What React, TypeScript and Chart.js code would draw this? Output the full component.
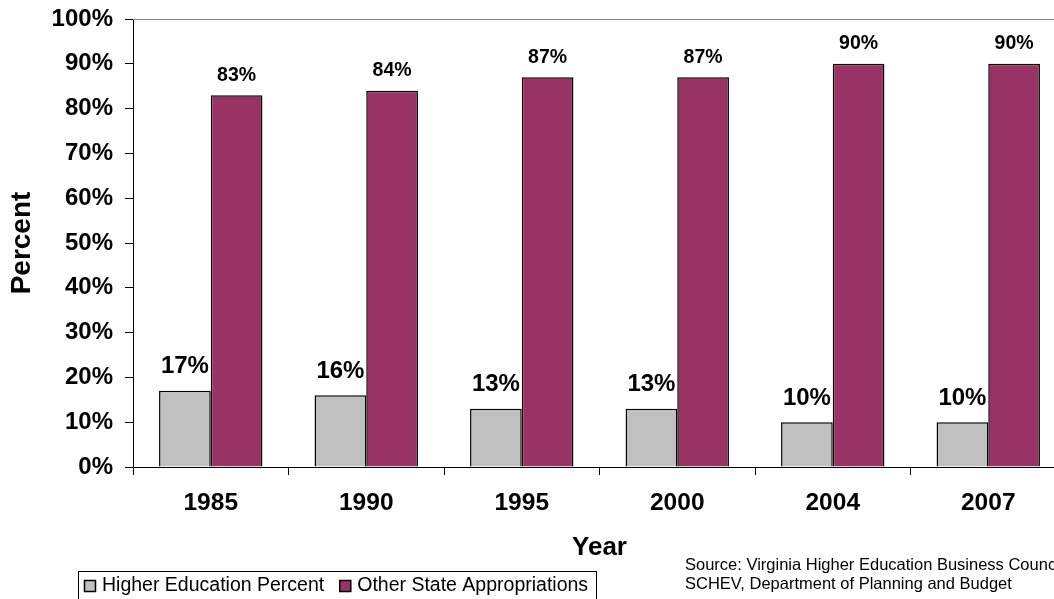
import React, { useEffect, useRef } from "react";
import { Chart, registerables } from "chart.js";

Chart.register(...registerables);

const years = ["1985", "1990", "1995", "2000", "2004", "2007"];
const higherEd = [17, 16, 13, 13, 10, 10];
const otherState = [83, 84, 87, 87, 90, 90];
const seriesNames = ["Higher Education Percent", "Other State Appropriations"];
const seriesColors = ["#C0C0C0", "#993366"];
const yTicks = [0, 10, 20, 30, 40, 50, 60, 70, 80, 90, 100];
const sourceLines = [
  "Source: Virginia Higher Education Business Council,",
  "SCHEV, Department of Planning and Budget",
];

const FONT = "'Liberation Sans', Arial, Helvetica, sans-serif";
const W = 1070;
const H = 599;

const extrasPlugin = {
  id: "extras",
  afterDraw(chart: any) {
    const ctx = chart.ctx;
    const area = chart.chartArea;
    ctx.save();
    // top and right border of plot area
    ctx.strokeStyle = "#808080";
    ctx.lineWidth = 1;
    ctx.beginPath();
    ctx.moveTo(area.left, Math.round(area.top) + 0.5);
    ctx.lineTo(area.right, Math.round(area.top) + 0.5);
    ctx.moveTo(Math.round(area.right) - 0.5, area.top);
    ctx.lineTo(Math.round(area.right) - 0.5, area.bottom);
    ctx.stroke();

    // data labels
    ctx.fillStyle = "#000";
    ctx.textAlign = "center";
    ctx.textBaseline = "middle";
    chart.data.datasets.forEach((ds: any, di: number) => {
      const meta = chart.getDatasetMeta(di);
      meta.data.forEach((bar: any, i: number) => {
        const v = ds.data[i];
        if (di === 0) {
          ctx.font = `bold 24px ${FONT}`;
          ctx.fillText(v + "%", bar.x, bar.y - 24);
        } else {
          ctx.font = `bold 19.5px ${FONT}`;
          ctx.fillText(v + "%", bar.x, bar.y - 20);
        }
      });
    });

    // legend box
    ctx.strokeStyle = "#000";
    ctx.lineWidth = 1;
    ctx.strokeRect(78.5, 571.5, 518, 34);
    ctx.font = `19.5px ${FONT}`;
    ctx.textAlign = "left";
    ctx.textBaseline = "middle";
    let x = 84;
    chart.data.datasets.forEach((ds: any) => {
      ctx.fillStyle = ds.backgroundColor;
      ctx.fillRect(x, 580, 12, 12);
      ctx.strokeStyle = "#000";
      ctx.lineWidth = 1.5;
      ctx.strokeRect(x + 0.5, 580.5, 11, 11);
      ctx.fillStyle = "#000";
      ctx.fillText(ds.label, x + 18, 586);
      x += 18 + ctx.measureText(ds.label).width + 15;
    });

    // source text
    ctx.font = `16.5px ${FONT}`;
    ctx.textBaseline = "middle";
    sourceLines.forEach((t, i) => ctx.fillText(t, 685, 565 + i * 19));
    ctx.restore();
  },
};

export default function App() {
  const ref = useRef<HTMLCanvasElement>(null);
  useEffect(() => {
    document.body.style.margin = "0";
    document.body.style.overflow = "hidden";
    const chart = new Chart(ref.current!, {
      type: "bar",
      data: {
        labels: years,
        datasets: [
          {
            label: seriesNames[0],
            data: higherEd,
            backgroundColor: seriesColors[0],
            borderColor: "#000",
            borderWidth: 1.5,
          },
          {
            label: seriesNames[1],
            data: otherState,
            backgroundColor: seriesColors[1],
            borderColor: "#000",
            borderWidth: 1.5,
          },
        ],
      },
      options: {
        responsive: false,
        animation: false,
        devicePixelRatio: 1,
        layout: { padding: { top: 19, right: W - 1066, left: 0, bottom: 0 } },
        plugins: { legend: { display: false }, tooltip: { enabled: false } },
        datasets: { bar: { categoryPercentage: 0.665, barPercentage: 1 } },
        scales: {
          x: {
            grid: {
              display: true,
              drawOnChartArea: false,
              drawTicks: true,
              tickLength: 8,
              color: "#000",
              offset: true,
            },
            border: { color: "#000", width: 1 },
            ticks: {
              color: "#000",
              font: { family: FONT, size: 24.5, weight: "bold" },
              padding: 14,
              maxRotation: 0,
            },
            title: {
              display: true,
              text: "Year",
              color: "#000",
              font: { family: FONT, size: 26, weight: "bold" },
              padding: { top: 0, bottom: 36 },
            },
            afterFit: (s: any) => {
              s.height = H - 467;
            },
          },
          y: {
            min: 0,
            max: 100,
            afterBuildTicks: (s: any) => {
              s.ticks = yTicks.map((v) => ({ value: v }));
            },
            grid: {
              display: true,
              drawOnChartArea: false,
              drawTicks: true,
              tickLength: 8,
              color: "#000",
            },
            border: { color: "#000", width: 1 },
            ticks: {
              color: "#000",
              font: { family: FONT, size: 24, weight: "bold", lineHeight: 0.5 },
              padding: 12,
              callback: (v: any) => v + "%",
            },
            title: {
              display: true,
              text: "Percent",
              color: "#000",
              font: { family: FONT, size: 28, weight: "bold" },
              padding: { top: 5, bottom: 0 },
            },
            afterFit: (s: any) => {
              s.width = 133;
            },
          },
        },
      },
      plugins: [extrasPlugin],
    });
    return () => chart.destroy();
  }, []);
  return (
    <div
      style={{
        position: "absolute",
        left: 0,
        top: 0,
        width: 1054,
        height: H,
        overflow: "hidden",
        background: "#fff",
      }}
    >
      <canvas ref={ref} width={W} height={H} style={{ width: W, height: H, display: "block" }} />
    </div>
  );
}
